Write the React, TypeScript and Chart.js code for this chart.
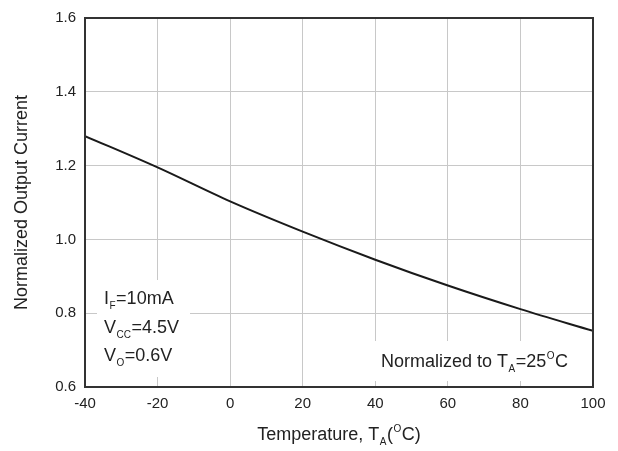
import React, { useEffect, useRef } from "react";
import { Chart, registerables } from "chart.js";

Chart.register(...registerables);

const temperatures = [-40, -20, 0, 20, 40, 60, 80, 100];
const normalizedCurrent = [1.28, 1.195, 1.103, 1.021, 0.945, 0.875, 0.811, 0.752];
const xTicks = [-40, -20, 0, 20, 40, 60, 80, 100];
const yTicks = [0.6, 0.8, 1.0, 1.2, 1.4, 1.6];

const FONT = "'Liberation Sans', Arial, sans-serif";
const TEXT = "#222";

type Part = { t: string; m?: "sub" | "sup" };

function drawRich(ctx: CanvasRenderingContext2D, parts: Part[], x: number, y: number, align: "left" | "center") {
  const mainF = `18px ${FONT}`;
  const smallF = `10px ${FONT}`;
  let total = 0;
  for (const p of parts) {
    ctx.font = p.m ? smallF : mainF;
    total += ctx.measureText(p.t).width + (p.m ? 1 : 0);
  }
  let cx = align === "center" ? x - total / 2 : x;
  ctx.textAlign = "left";
  ctx.textBaseline = "alphabetic";
  ctx.fillStyle = TEXT;
  for (const p of parts) {
    ctx.font = p.m ? smallF : mainF;
    const dy = p.m === "sub" ? 5 : p.m === "sup" ? -8 : 0;
    ctx.fillText(p.t, cx + (p.m ? 0.5 : 0), y + dy);
    cx += ctx.measureText(p.t).width + (p.m ? 1 : 0);
  }
}

const annotPlugin = {
  id: "annot",
  beforeDatasetsDraw(chart: any) {
    const ctx = chart.ctx as CanvasRenderingContext2D;
    ctx.save();
    ctx.fillStyle = "#fff";
    ctx.fillRect(97, 280, 93, 97);
    ctx.fillRect(368, 341, 216, 40);
    ctx.restore();
  },
  afterDraw(chart: any) {
    const ctx = chart.ctx as CanvasRenderingContext2D;
    const a = chart.chartArea;
    ctx.save();
    // frame
    ctx.strokeStyle = "#333";
    ctx.lineWidth = 2;
    ctx.strokeRect(a.left, a.top, a.right - a.left, a.bottom - a.top);

    // left annotation
    drawRich(ctx, [{ t: "I" }, { t: "F", m: "sub" }, { t: "=10mA" }], 104, 304, "left");
    drawRich(ctx, [{ t: "V" }, { t: "CC", m: "sub" }, { t: "=4.5V" }], 104, 333, "left");
    drawRich(ctx, [{ t: "V" }, { t: "O", m: "sub" }, { t: "=0.6V" }], 104, 361, "left");

    // right annotation
    drawRich(
      ctx,
      [{ t: "Normalized to T" }, { t: "A", m: "sub" }, { t: "=25" }, { t: "O", m: "sup" }, { t: "C" }],
      381,
      367,
      "left"
    );

    // x title
    drawRich(
      ctx,
      [{ t: "Temperature, T" }, { t: "A", m: "sub" }, { t: "(" }, { t: "O", m: "sup" }, { t: "C)" }],
      (a.left + a.right) / 2,
      440,
      "center"
    );

    // y title
    ctx.translate(27, (a.top + a.bottom) / 2);
    ctx.rotate(-Math.PI / 2);
    ctx.font = `18px ${FONT}`;
    ctx.fillStyle = TEXT;
    ctx.textAlign = "center";
    ctx.textBaseline = "alphabetic";
    ctx.fillText("Normalized Output Current", 0, 0);
    ctx.restore();
  },
};

export default function App() {
  const ref = useRef<HTMLCanvasElement | null>(null);
  useEffect(() => {
    if (!ref.current) return;
    const chart = new Chart(ref.current, {
      type: "line",
      data: {
        datasets: [
          {
            data: temperatures.map((t, i) => ({ x: t, y: normalizedCurrent[i] })),
            borderColor: "#1a1a1a",
            borderWidth: 2,
            pointRadius: 0,
            cubicInterpolationMode: "monotone",
            fill: false,
          },
        ],
      },
      options: {
        responsive: false,
        animation: false,
        devicePixelRatio: 1,
        layout: { padding: { left: 0, top: 14, right: 25, bottom: 0 } },
        plugins: { legend: { display: false }, tooltip: { enabled: false } },
        scales: {
          x: {
            type: "linear",
            min: -40,
            max: 100,
            afterBuildTicks: (s: any) => {
              s.ticks = xTicks.map((v) => ({ value: v }));
            },
            afterFit: (s: any) => {
              s.height = 64;
            },
            grid: { color: "#c8c8c8", lineWidth: 1, drawTicks: false },
            border: { display: false },
            ticks: {
              color: TEXT,
              font: { family: FONT, size: 15 },
              padding: 8,
              maxRotation: 0,
              callback: (v: any) => String(v),
            },
          },
          y: {
            type: "linear",
            min: 0.6,
            max: 1.6,
            afterBuildTicks: (s: any) => {
              s.ticks = yTicks.map((v) => ({ value: v }));
            },
            afterFit: (s: any) => {
              s.width = 85;
            },
            grid: { color: "#c8c8c8", lineWidth: 1, drawTicks: false },
            border: { display: false },
            ticks: {
              color: TEXT,
              font: { family: FONT, size: 15 },
              padding: 9,
              callback: (v: any) => Number(v).toFixed(1),
            },
          },
        },
      },
      plugins: [annotPlugin],
    } as any);
    return () => chart.destroy();
  }, []);
  return (
    <div style={{ position: "fixed", left: 0, top: 0, width: 618, height: 451, background: "#fff" }}>
      <canvas ref={ref} width={618} height={451} style={{ width: 618, height: 451, display: "block" }} />
    </div>
  );
}
